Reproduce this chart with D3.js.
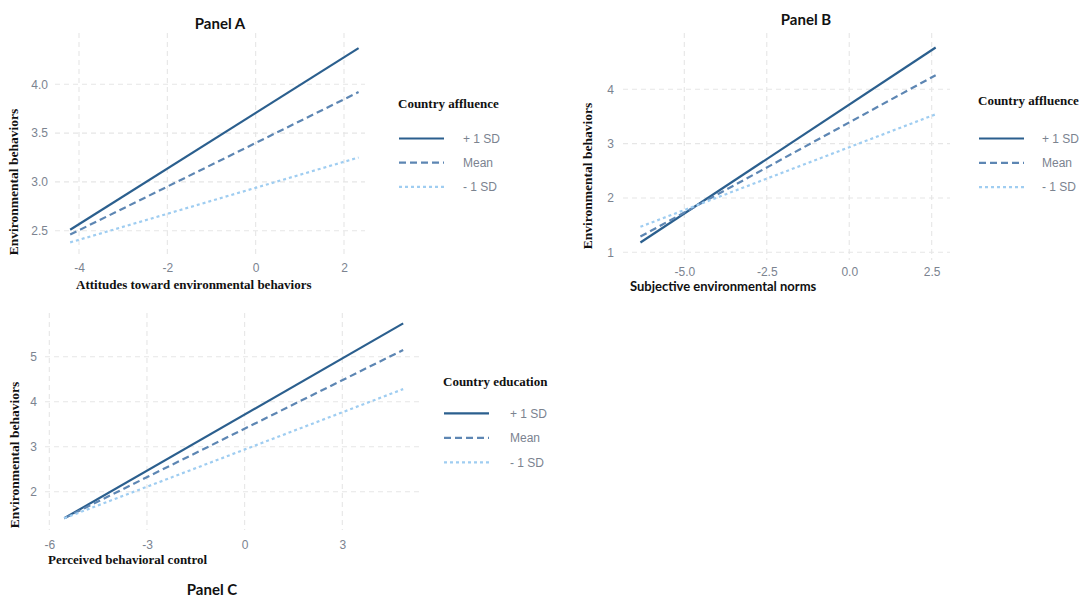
<!DOCTYPE html>
<html>
<head>
<meta charset="utf-8">
<script src="https://cdn.jsdelivr.net/npm/d3@7"></script>
<style>
  html, body { margin: 0; padding: 0; background: #ffffff; }
  svg { display: block; }
</style>
</head>
<body>
<svg id="chart" width="1081" height="598"></svg>
<script>
// ---------------- data ----------------
const seriesNames = ["+ 1 SD", "Mean", "- 1 SD"];

const panelA_x = [-4.2, 2.33];
const panelA_plus = [2.51, 4.37];
const panelA_mean = [2.46, 3.92];
const panelA_minus = [2.38, 3.25];
const panelA_xTicks = [-4, -2, 0, 2];
const panelA_yTicks = [2.5, 3.0, 3.5, 4.0];

const panelB_x = [-6.33, 2.62];
const panelB_plus = [1.18, 4.77];
const panelB_mean = [1.29, 4.26];
const panelB_minus = [1.47, 3.54];
const panelB_xTicks = [-5.0, -2.5, 0.0, 2.5];
const panelB_yTicks = [1, 2, 3, 4];

const panelC_x = [-5.54, 4.87];
const panelC_plus = [1.41, 5.74];
const panelC_mean = [1.41, 5.15];
const panelC_minus = [1.41, 4.28];
const panelC_xTicks = [-6, -3, 0, 3];
const panelC_yTicks = [2, 3, 4, 5];

// ---------------- styles ----------------
const lineStyles = [
  { color: "#2b5f8e", dash: null, width: 2.2 },
  { color: "#5d86b3", dash: "7,4", width: 2.2 },
  { color: "#9fcdf1", dash: "3,3", width: 2.2 }
];
const tickColor = "#7b8390";
const gridColor = "#e6e6e6";
const serifBold = "'Liberation Serif', 'DejaVu Serif', serif";
const sansTitle = "Lato, 'Open Sans', sans-serif";
const sansTick = "'Liberation Sans', Arial, sans-serif";

const svg = d3.select("#chart");

function drawPanel(cfg) {
  const g = svg.append("g");
  const x = d3.scaleLinear().domain(cfg.xTickDom).range(cfg.xTickPx);
  const y = d3.scaleLinear().domain(cfg.yTickDom).range(cfg.yTickPx);
  const [gx0, gx1] = cfg.gridX;
  const [gy0, gy1] = cfg.gridY;

  // grid
  const grid = g.append("g");
  grid.selectAll("line.h").data(cfg.yTicks).join("line")
    .attr("x1", gx0).attr("x2", gx1)
    .attr("y1", d => y(d)).attr("y2", d => y(d))
    .attr("stroke", gridColor).attr("stroke-width", 1.1)
    .attr("stroke-dasharray", "5,4");
  grid.selectAll("line.v").data(cfg.xTicks).join("line")
    .attr("y1", gy0).attr("y2", gy1)
    .attr("x1", d => x(d)).attr("x2", d => x(d))
    .attr("stroke", gridColor).attr("stroke-width", 1.1)
    .attr("stroke-dasharray", "5,4");

  // axes (tick labels only, using d3 axes)
  const xAxis = d3.axisBottom(x).tickValues(cfg.xTicks).tickFormat(cfg.xFmt).tickSize(0).tickPadding(0);
  const xa = g.append("g").attr("transform", `translate(0,${cfg.xLabelY})`).call(xAxis);
  xa.select(".domain").remove();
  xa.selectAll("text").attr("fill", tickColor).attr("font-family", sansTick)
    .attr("font-size", 12).attr("dy", "0.35em").attr("y", 0);

  const yAxis = d3.axisLeft(y).tickValues(cfg.yTicks).tickFormat(cfg.yFmt).tickSize(0).tickPadding(0);
  const ya = g.append("g").attr("transform", `translate(${cfg.yLabelX},0)`).call(yAxis);
  ya.select(".domain").remove();
  ya.selectAll("text").attr("fill", tickColor).attr("font-family", sansTick)
    .attr("font-size", 12).attr("x", 0);

  // lines
  const lineGen = d3.line().x(d => x(d[0])).y(d => y(d[1]));
  cfg.series.forEach((vals, i) => {
    const pts = cfg.xs.map((xv, j) => [xv, vals[j]]);
    const st = lineStyles[i];
    g.append("path").datum(pts)
      .attr("d", lineGen)
      .attr("fill", "none")
      .attr("stroke", st.color)
      .attr("stroke-width", st.width)
      .attr("stroke-dasharray", st.dash);
  });

  // title
  g.append("text").attr("x", cfg.title.x).attr("y", cfg.title.y)
    .attr("text-anchor", "middle").attr("font-family", sansTitle)
    .attr("font-weight", "bold").attr("font-size", 15).attr("fill", "#111")
    .text(cfg.title.text);

  // x label
  g.append("text").attr("x", cfg.xTitle.x).attr("y", cfg.xTitle.y)
    .attr("font-family", cfg.xTitle.font).attr("font-weight", "bold")
    .attr("font-size", cfg.xTitle.size).attr("fill", "#111")
    .text(cfg.xTitle.text);

  // y label
  g.append("text")
    .attr("transform", `translate(${cfg.yTitle.x},${cfg.yTitle.y}) rotate(-90)`)
    .attr("text-anchor", "middle").attr("font-family", serifBold).attr("font-weight", "bold")
    .attr("font-size", 13.5).attr("fill", "#111")
    .text("Environmental behaviors");

  // legend
  const lg = g.append("g");
  lg.append("text").attr("x", cfg.legend.x).attr("y", cfg.legend.titleY)
    .attr("font-family", serifBold).attr("font-weight", "bold").attr("font-size", 13)
    .attr("fill", "#111").text(cfg.legend.title);
  seriesNames.forEach((name, i) => {
    const yy = cfg.legend.firstY + i * cfg.legend.step;
    const st = lineStyles[i];
    lg.append("line").attr("x1", cfg.legend.x + 1).attr("x2", cfg.legend.x + 46)
      .attr("y1", yy).attr("y2", yy)
      .attr("stroke", st.color).attr("stroke-width", st.width)
      .attr("stroke-dasharray", st.dash);
    lg.append("text").attr("x", cfg.legend.textX).attr("y", yy).attr("dy", "0.35em")
      .attr("font-family", sansTick).attr("font-size", 12).attr("fill", tickColor)
      .text(name);
  });
}

const hyph = f => v => f(v).replace("\u2212", "-");
const f1 = hyph(d3.format(".1f"));
const f0 = hyph(d3.format("d"));

drawPanel({
  xs: panelA_x, series: [panelA_plus, panelA_mean, panelA_minus],
  xTicks: panelA_xTicks, yTicks: panelA_yTicks, xFmt: f0, yFmt: f1,
  xTickDom: [-4, 2], xTickPx: [79, 344], yTickDom: [2.5, 4.0], yTickPx: [230.7, 84.3],
  gridX: [55, 365], gridY: [33, 258], xLabelY: 268, yLabelX: 48,
  title: { text: "Panel A", x: 220, y: 29 },
  xTitle: { text: "Attitudes toward environmental behaviors", x: 76, y: 289, font: serifBold, size: 13 },
  yTitle: { x: 18, y: 182 },
  legend: { title: "Country affluence", x: 398, titleY: 108, firstY: 138.5, step: 24.2, textX: 463 }
});

drawPanel({
  xs: panelB_x, series: [panelB_plus, panelB_mean, panelB_minus],
  xTicks: panelB_xTicks, yTicks: panelB_yTicks, xFmt: f1, yFmt: f0,
  xTickDom: [-5, 2.5], xTickPx: [684.3, 931.7], yTickDom: [1, 4], yTickPx: [252.3, 89.3],
  gridX: [623, 950], gridY: [33, 260], xLabelY: 272, yLabelX: 614,
  title: { text: "Panel B", x: 806, y: 25 },
  xTitle: { text: "Subjective environmental norms", x: 630, y: 291, font: sansTitle, size: 13 },
  yTitle: { x: 592, y: 176 },
  legend: { title: "Country affluence", x: 978, titleY: 105, firstY: 138.5, step: 24.3, textX: 1042 }
});

drawPanel({
  xs: panelC_x, series: [panelC_plus, panelC_mean, panelC_minus],
  xTicks: panelC_xTicks, yTicks: panelC_yTicks, xFmt: f0, yFmt: f0,
  xTickDom: [-6, 3], xTickPx: [49.3, 342.3], yTickDom: [2, 5], yTickPx: [491.7, 356.7],
  gridX: [45, 421], gridY: [313, 530], xLabelY: 545, yLabelX: 37,
  title: { text: "Panel C", x: 212, y: 595 },
  xTitle: { text: "Perceived behavioral control", x: 48, y: 564, font: serifBold, size: 13 },
  yTitle: { x: 19, y: 455 },
  legend: { title: "Country education", x: 443, titleY: 386, firstY: 413.3, step: 24.5, textX: 510 }
});
</script>
</body>
</html>
